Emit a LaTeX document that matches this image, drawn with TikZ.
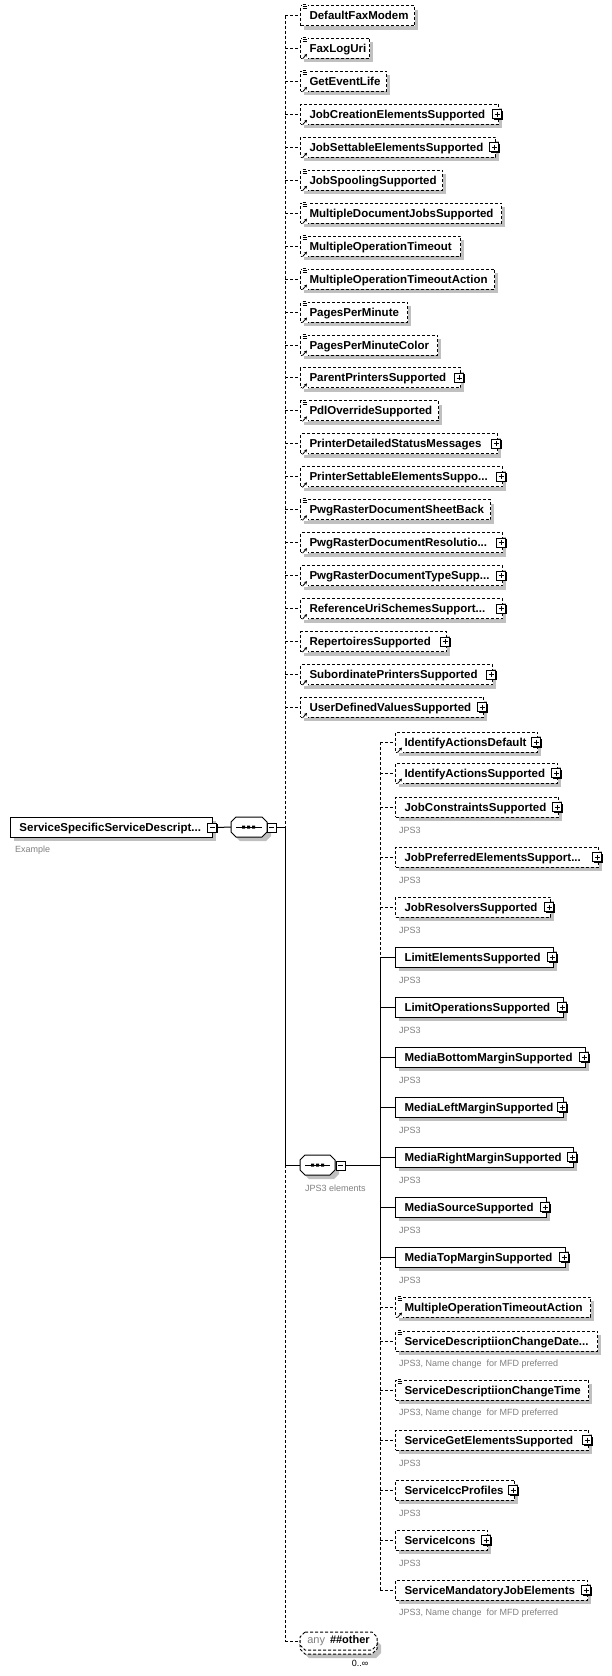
\documentclass[tikz,border=0pt]{standalone}
\usepackage{fontspec}
\setmainfont{Liberation Sans}
\usetikzlibrary{arrows.meta}
\definecolor{shadowc}{HTML}{C0C0C0}
\definecolor{notec}{HTML}{808080}
\tikzset{
  conn/.style={line width=1pt, line cap=butt},
  optconn/.style={conn, dash pattern=on 3pt off 2pt},
  elopt/.style={draw=black, line width=1pt, dash pattern=on 3pt off 2pt, fill=white,
    minimum height=20pt, inner xsep=9pt, inner ysep=0pt, text height=10pt, text depth=2pt,
    anchor=west, font=\fontsize{11.5}{13}\selectfont\bfseries},
  elreq/.style={elopt, solid},
  pmbox/.style={draw=black, solid, line width=1pt, fill=white, minimum size=9pt, inner sep=0pt},
  ghostbox/.style={inner sep=0pt, minimum width=#1, minimum height=20pt},
  note/.style={anchor=west, text=notec, font=\fontsize{9}{10}\selectfont, inner sep=0pt},
}
% element box: #1 name, #2 style, #3 left, #4 right, #5 y, #6 text
\newcommand\xsEl[6]{%
  \fill[shadowc] ({#3+4},{#5-6}) rectangle ({#4+4},{#5+14});
  \node[#2] (#1) at (#3,#5) {\makebox[\dimexpr#4pt-#3pt-18pt\relax][l]{#6}};
}
% simple-type icon (top-left)
\newcommand\xsIcS[2]{%
  \fill[white] ({#1+1.5},{#2-11.5}) rectangle ({#1+8},{#2-5});
  \draw[line width=0.8pt] ({#1+2.5},{#2-11}) -- ({#1+6},{#2-11})
    ({#1+2.5},{#2-9}) -- ({#1+7},{#2-9}) ({#1+2.5},{#2-7}) -- ({#1+7},{#2-7});
}
% reference arrow icon (bottom-left)
\newcommand\xsIcA[2]{%
  \fill[white] ({#1+1.5},{#2+4.5}) rectangle ({#1+8},{#2+11});
  \draw[line width=0.8pt, -{Stealth[length=3pt,width=3.2pt]}] ({#1+2.5},{#2+10.5}) -- ({#1+7},{#2+5.5});
}
% plus box: #1 name, #2 cx, #3 cy
\newcommand\xsPl[3]{%
  \fill[black] ({#2-3.5},{#3-3.5}) rectangle ({#2+5.5},{#3+5.5});
  \node[pmbox] (#1) at (#2,#3) {};
  \draw[line width=0.9pt] ({#2-2.5},#3) -- ({#2+2.5},#3) (#2,{#3-2.5}) -- (#2,{#3+2.5});
}
\newcommand\xsMi[3]{%
  \fill[black] ({#2-3.5},{#3-3.5}) rectangle ({#2+5.5},{#3+5.5});
  \node[pmbox] (#1) at (#2,#3) {};
  \draw[line width=0.9pt] ({#2-2.5},#3) -- ({#2+2.5},#3);
}
% octagon: #1 opts, #2 l, #3 r, #4 t, #5 b
\newcommand\xsOct[5]{%
  \path[#1] ({#2+5},#4) -- ({#3-5},#4) -- (#3,{#4+5}) -- (#3,{#5-5}) -- ({#3-5},#5)
    -- ({#2+5},#5) -- (#2,{#5-5}) -- (#2,{#4+5}) -- cycle;
}
\begin{document}
\begin{tikzpicture}[x=1pt, y=-1pt]
\useasboundingbox (0,0) rectangle (611,1676);
\fill[white] (0,0) rectangle (611,1676);

% ---------- root element ----------
\xsEl{root}{elreq}{10}{212}{827}{ServiceSpecificServiceDescript...}
\xsMi{rootm}{212}{827.5}
\node[note] (rootnote) at (15,850) {Example};

% ---------- main sequence ----------
\xsOct{fill=shadowc}{235}{271}{821}{841}
\xsOct{draw=black, fill=white, conn}{231}{267}{817}{837}
\node[ghostbox=36pt] (mseq) at (249,827) {};
\draw[conn] (236,827) -- (262,827);
\fill (242,825.5) rectangle (245,828.5) (247,825.5) rectangle (250,828.5) (252,825.5) rectangle (255,828.5);
\xsMi{mseqm}{271.5}{827.5}

% ---------- top-level children ----------
\xsEl{t1}{elopt}{300}{414}{15.5}{DefaultFaxModem}\xsIcS{300}{15.5}
\xsEl{t2}{elopt}{300}{369}{48.45}{FaxLogUri}\xsIcS{300}{48.45}\xsIcA{300}{48.45}
\xsEl{t3}{elopt}{300}{386}{81.4}{GetEventLife}\xsIcS{300}{81.4}\xsIcA{300}{81.4}
\xsEl{t4}{elopt}{300}{498}{114.35}{JobCreationElementsSupported}\xsIcA{300}{114.35}\xsPl{t4p}{497}{114.35}
\xsEl{t5}{elopt}{300}{495}{147.3}{JobSettableElementsSupported}\xsIcA{300}{147.3}\xsPl{t5p}{494}{147.3}
\xsEl{t6}{elopt}{300}{442}{180.25}{JobSpoolingSupported}\xsIcS{300}{180.25}\xsIcA{300}{180.25}
\xsEl{t7}{elopt}{300}{501}{213.2}{MultipleDocumentJobsSupported}\xsIcS{300}{213.2}\xsIcA{300}{213.2}
\xsEl{t8}{elopt}{300}{460}{246.15}{MultipleOperationTimeout}\xsIcS{300}{246.15}\xsIcA{300}{246.15}
\xsEl{t9}{elopt}{300}{494}{279.1}{MultipleOperationTimeoutAction}\xsIcS{300}{279.1}\xsIcA{300}{279.1}
\xsEl{t10}{elopt}{300}{407}{312.05}{PagesPerMinute}\xsIcS{300}{312.05}\xsIcA{300}{312.05}
\xsEl{t11}{elopt}{300}{437}{345}{PagesPerMinuteColor}\xsIcS{300}{345}\xsIcA{300}{345}
\xsEl{t12}{elopt}{300}{460}{377.95}{ParentPrintersSupported}\xsIcA{300}{377.95}\xsPl{t12p}{459}{377.95}
\xsEl{t13}{elopt}{300}{438}{410.9}{PdlOverrideSupported}\xsIcS{300}{410.9}\xsIcA{300}{410.9}
\xsEl{t14}{elopt}{300}{497}{443.85}{PrinterDetailedStatusMessages}\xsIcA{300}{443.85}\xsPl{t14p}{496}{443.85}
\xsEl{t15}{elopt}{300}{502}{476.8}{PrinterSettableElementsSuppo...}\xsIcA{300}{476.8}\xsPl{t15p}{501}{476.8}
\xsEl{t16}{elopt}{300}{490}{509.75}{PwgRasterDocumentSheetBack}\xsIcS{300}{509.75}\xsIcA{300}{509.75}
\xsEl{t17}{elopt}{300}{502}{542.7}{PwgRasterDocumentResolutio...}\xsIcA{300}{542.7}\xsPl{t17p}{501}{542.7}
\xsEl{t18}{elopt}{300}{502}{575.65}{PwgRasterDocumentTypeSupp...}\xsIcA{300}{575.65}\xsPl{t18p}{501}{575.65}
\xsEl{t19}{elopt}{300}{502}{608.6}{ReferenceUriSchemesSupport...}\xsIcA{300}{608.6}\xsPl{t19p}{501}{608.6}
\xsEl{t20}{elopt}{300}{446}{641.55}{RepertoiresSupported}\xsIcA{300}{641.55}\xsPl{t20p}{445}{641.55}
\xsEl{t21}{elopt}{300}{492}{674.5}{SubordinatePrintersSupported}\xsIcA{300}{674.5}\xsPl{t21p}{491}{674.5}
\xsEl{t22}{elopt}{300}{483}{707.45}{UserDefinedValuesSupported}\xsIcA{300}{707.45}\xsPl{t22p}{482}{707.45}

% ---------- JPS3 sequence ----------
\xsOct{fill=shadowc}{304}{339}{1159}{1179}
\xsOct{draw=black, fill=white, conn}{300}{335}{1155}{1175}
\node[ghostbox=35pt] (jseq) at (317.5,1165) {};
\draw[conn] (305,1165) -- (330,1165);
\fill (311,1163.5) rectangle (314,1166.5) (316,1163.5) rectangle (319,1166.5) (321,1163.5) rectangle (324,1166.5);
\xsMi{jseqm}{340.5}{1165.5}
\node[note] (jseqnote) at (305,1188) {JPS3 elements};

% ---------- JPS3 children ----------
\xsEl{i1}{elopt}{395}{537}{742}{IdentifyActionsDefault}\xsIcA{395}{742}\xsPl{i1p}{536}{742}
\xsEl{i2}{elopt}{395}{557}{773}{IdentifyActionsSupported}\xsIcA{395}{773}\xsPl{i2p}{556}{773}
\xsEl{i3}{elopt}{395}{558}{807}{JobConstraintsSupported}\xsPl{i3p}{557}{807}
\xsEl{i4}{elopt}{395}{598}{857}{JobPreferredElementsSupport...}\xsPl{i4p}{597}{857}
\xsEl{i5}{elopt}{395}{550}{907}{JobResolversSupported}\xsPl{i5p}{549}{907}
\xsEl{i6}{elreq}{395}{553}{957}{LimitElementsSupported}\xsPl{i6p}{552}{957}
\xsEl{i7}{elreq}{395}{563}{1007}{LimitOperationsSupported}\xsPl{i7p}{562}{1007}
\xsEl{i8}{elreq}{395}{585}{1057}{MediaBottomMarginSupported}\xsPl{i8p}{584}{1057}
\xsEl{i9}{elreq}{395}{563}{1107}{MediaLeftMarginSupported}\xsPl{i9p}{562}{1107}
\xsEl{i10}{elreq}{395}{573}{1157}{MediaRightMarginSupported}\xsPl{i10p}{572}{1157}
\xsEl{i11}{elreq}{395}{546}{1207}{MediaSourceSupported}\xsPl{i11p}{545}{1207}
\xsEl{i12}{elreq}{395}{565}{1257}{MediaTopMarginSupported}\xsPl{i12p}{564}{1257}
\xsEl{i13}{elopt}{395}{590}{1307}{MultipleOperationTimeoutAction}\xsIcS{395}{1307}\xsIcA{395}{1307}
\xsEl{i14}{elopt}{395}{597}{1341}{ServiceDescriptiionChangeDate...}\xsIcS{395}{1341}
\xsEl{i15}{elopt}{395}{588}{1390}{ServiceDescriptiionChangeTime}\xsIcS{395}{1390}
\xsEl{i16}{elopt}{395}{588}{1440}{ServiceGetElementsSupported}\xsPl{i16p}{587}{1440}
\xsEl{i17}{elopt}{395}{514}{1490}{ServiceIccProfiles}\xsPl{i17p}{513}{1490}
\xsEl{i18}{elopt}{395}{487}{1540}{ServiceIcons}\xsPl{i18p}{486}{1540}
\xsEl{i19}{elopt}{395}{587}{1590}{ServiceMandatoryJobElements}\xsPl{i19p}{586}{1590}

% notes
\foreach \n/\yy in {i3/807, i4/857, i5/907, i6/957, i7/1007, i8/1057, i9/1107, i10/1157, i11/1207, i12/1257, i16/1440, i17/1490, i18/1540}
  \node[note] (\n note) at (399,\yy+23) {JPS3};
\foreach \n/\yy in {i14/1341, i15/1390, i19/1590}
  \node[note] (\n note) at (399,\yy+23) {JPS3, Name change\ \ for MFD preferred};

% ---------- any ##other ----------
\xsOct{fill=shadowc}{304}{381}{1640}{1658}
\xsOct{draw=black, fill=white, optconn}{300}{377}{1636}{1654}
\xsOct{draw=black, fill=white, optconn}{300}{377}{1632}{1650}
\node[inner sep=0pt, minimum width=77pt, minimum height=18pt, font=\fontsize{11}{13}\selectfont] (anyn) at (338.5,1641)
  {{\color{notec}any}\hspace{5pt}\textbf{\#\#other}};
\node[inner sep=0pt, font=\fontsize{9}{10}\selectfont] (occ) at (360,1663) {0..∞};

% ---------- spines ----------
\coordinate (sptop) at (285,15.5);
\coordinate (spmid) at (285,827);
\coordinate (spj) at (285,1165);
\coordinate (spbot) at (285,1641);
\draw[optconn] (sptop) -- (spmid);
\draw[conn] (spmid) -- (spj);
\draw[optconn] (spj) -- (spbot);

\coordinate (isptop) at (380,742);
\coordinate (ispa) at (380,957);
\coordinate (ispj) at (380,1165);
\coordinate (ispb) at (380,1257);
\coordinate (ispbot) at (380,1590);
\draw[optconn] (isptop) -- (ispa);
\draw[conn] (ispa) -- (ispb);
\draw[optconn] (ispb) -- (ispbot);

% ---------- connectors ----------
\draw[conn] (rootm.east) -- (mseq.west);
\draw[conn] (mseqm.east) -- (mseqm.east -| spmid);
\foreach \i in {1,...,22} \draw[optconn] (t\i.west -| sptop) -- (t\i.west);
\draw[conn] (spj) -- (jseq.west);
\draw[conn] (jseqm.east) -- (jseqm.east -| ispj);
\foreach \i in {1,2,3,4,5,13,14,15,16,17,18,19} \draw[optconn] (i\i.west -| isptop) -- (i\i.west);
\foreach \i in {6,...,12} \draw[conn] (i\i.west -| isptop) -- (i\i.west);
\draw[optconn] (spbot) -- (anyn.west);
\end{tikzpicture}
\end{document}
